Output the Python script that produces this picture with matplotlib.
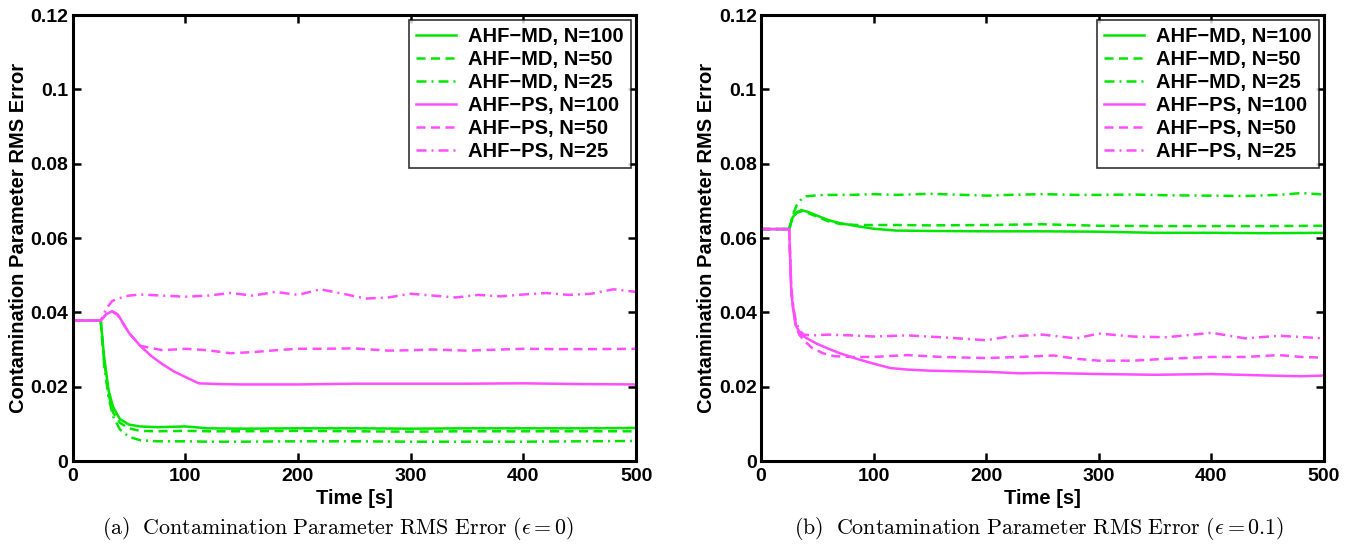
import numpy as np
import matplotlib
matplotlib.use('Agg')
import matplotlib.pyplot as plt

plt.rcParams['font.family'] = ['Liberation Sans', 'DejaVu Sans']
plt.rcParams['mathtext.fontset'] = 'cm'

GREEN = '#00e600'
MAGENTA = '#ff4dff'

LABELS = ['AHF\u2212MD, N=100', 'AHF\u2212MD, N=50', 'AHF\u2212MD, N=25',
          'AHF\u2212PS, N=100', 'AHF\u2212PS, N=50', 'AHF\u2212PS, N=25']

# ---- (a) epsilon = 0 ----
a_md100_t = [0, 25, 28, 32, 36, 42, 50, 60, 75, 100, 120, 150, 200, 250, 300, 350, 400, 450, 500]
a_md100_v = [0.0378, 0.0378, 0.028, 0.019, 0.0145, 0.0113, 0.0098, 0.0093, 0.0091, 0.0093, 0.0088,
             0.0087, 0.0088, 0.0088, 0.0087, 0.0088, 0.0088, 0.0088, 0.0089]
a_md50_t = a_md100_t
a_md50_v = [0.0378, 0.0378, 0.027, 0.018, 0.013, 0.0103, 0.0088, 0.0081, 0.0080, 0.0081, 0.0080,
            0.0080, 0.0081, 0.0080, 0.0079, 0.0080, 0.0080, 0.0080, 0.0080]
a_md25_t = a_md100_t
a_md25_v = [0.0378, 0.0378, 0.026, 0.017, 0.012, 0.0085, 0.0065, 0.0056, 0.0053, 0.0053, 0.0052,
            0.0052, 0.0053, 0.0053, 0.0052, 0.0052, 0.0052, 0.0053, 0.0054]
a_ps100_t = [0, 25, 30, 35, 40, 50, 60, 70, 80, 90, 100, 112, 130, 150, 200, 250, 300, 350, 400, 450, 500]
a_ps100_v = [0.0378, 0.0378, 0.0395, 0.0403, 0.0395, 0.0345, 0.031, 0.0282, 0.026, 0.0241, 0.0226,
             0.0209, 0.0207, 0.0206, 0.0206, 0.0208, 0.0208, 0.0208, 0.0209, 0.0207, 0.0206]
a_ps50_t = [0, 25, 30, 35, 40, 50, 60, 80, 100, 120, 140, 160, 180, 200, 220, 250, 280, 300, 320,
            350, 380, 400, 430, 460, 500]
a_ps50_v = [0.0378, 0.0378, 0.0395, 0.0402, 0.0393, 0.0345, 0.031, 0.0298, 0.0302, 0.0298, 0.0290,
            0.0293, 0.0298, 0.0302, 0.0302, 0.0303, 0.0297, 0.0298, 0.0300, 0.0297, 0.0300, 0.0302,
            0.0301, 0.0301, 0.0302]
a_ps25_t = [0, 25, 30, 35, 40, 50, 60, 80, 100, 120, 140, 160, 180, 200, 220, 240, 260, 280, 300,
            320, 340, 360, 380, 400, 420, 440, 460, 480, 500]
a_ps25_v = [0.0378, 0.0378, 0.041, 0.043, 0.0437, 0.0445, 0.0448, 0.0445, 0.0442, 0.0445, 0.0452,
            0.0445, 0.0455, 0.0447, 0.0462, 0.0450, 0.0437, 0.0440, 0.0450, 0.0445, 0.0440, 0.0447,
            0.0443, 0.0448, 0.0452, 0.0447, 0.0450, 0.0462, 0.0455]

# ---- (b) epsilon = 0.1 ----
b_md100_t = [0, 25, 28, 32, 36, 42, 50, 60, 70, 85, 100, 120, 150, 200, 250, 300, 350, 400, 450, 500]
b_md100_v = [0.0624, 0.0624, 0.0655, 0.0670, 0.0675, 0.0670, 0.0660, 0.0648, 0.0640, 0.0632, 0.0625,
             0.0620, 0.0619, 0.0618, 0.0618, 0.0617, 0.0614, 0.0614, 0.0613, 0.0614]
b_md50_t = b_md100_t
b_md50_v = [0.0624, 0.0624, 0.0655, 0.0668, 0.0672, 0.0667, 0.0657, 0.0645, 0.0638, 0.0635, 0.0635,
            0.0635, 0.0634, 0.0635, 0.0637, 0.0633, 0.0632, 0.0632, 0.0632, 0.0633]
b_md25_t = [0, 25, 28, 32, 36, 40, 50, 60, 80, 100, 120, 150, 180, 200, 220, 250, 280, 300, 330,
            360, 400, 430, 460, 480, 500]
b_md25_v = [0.0624, 0.0624, 0.066, 0.069, 0.0705, 0.0712, 0.0715, 0.0716, 0.0716, 0.0718, 0.0716,
            0.0719, 0.0716, 0.0714, 0.0716, 0.0718, 0.0716, 0.0716, 0.0717, 0.0715, 0.0714, 0.0713,
            0.0716, 0.0721, 0.0717]
b_ps100_t = [0, 25, 27, 29, 31, 34, 38, 42, 50, 60, 70, 85, 100, 115, 130, 150, 200, 230, 250, 300,
             350, 400, 450, 480, 500]
b_ps100_v = [0.0624, 0.0624, 0.045, 0.040, 0.0365, 0.0348, 0.0335, 0.0328, 0.0315, 0.0302, 0.0290,
             0.0275, 0.0262, 0.0250, 0.0246, 0.0243, 0.0240, 0.0236, 0.0237, 0.0234, 0.0232, 0.0234,
             0.0230, 0.0228, 0.0230]
b_ps50_t = [0, 25, 27, 29, 31, 34, 38, 45, 55, 65, 80, 100, 130, 160, 200, 230, 260, 280, 300, 330,
            360, 400, 430, 460, 480, 500]
b_ps50_v = [0.0624, 0.0624, 0.045, 0.040, 0.0362, 0.0340, 0.0325, 0.0305, 0.0290, 0.0282, 0.0280,
            0.0280, 0.0285, 0.0280, 0.0277, 0.0280, 0.0284, 0.0275, 0.0270, 0.0270, 0.0275, 0.0280,
            0.0280, 0.0285, 0.0280, 0.0278]
b_ps25_t = [0, 25, 27, 29, 31, 34, 38, 45, 60, 80, 100, 130, 160, 200, 220, 250, 280, 300, 330, 360,
            400, 430, 460, 500]
b_ps25_v = [0.0624, 0.0624, 0.046, 0.041, 0.0375, 0.0352, 0.0340, 0.0338, 0.0340, 0.0338, 0.0335,
            0.0338, 0.0333, 0.0325, 0.0335, 0.0340, 0.0330, 0.0343, 0.0335, 0.0333, 0.0345, 0.0330,
            0.0337, 0.0330]

x_ticks = [0, 100, 200, 300, 400, 500]
y_ticks = [0, 0.02, 0.04, 0.06, 0.08, 0.1, 0.12]
y_tick_labels = ['0', '0.02', '0.04', '0.06', '0.08', '0.1', '0.12']

SOLID = '-'
DASHED = (0, (3.6, 2.2))
DASHDOT = (0, (4.0, 2.0, 0.8, 2.0))
STYLES = [(GREEN, SOLID), (GREEN, DASHED), (GREEN, DASHDOT),
          (MAGENTA, SOLID), (MAGENTA, DASHED), (MAGENTA, DASHDOT)]

panels = [
    ([(a_md100_t, a_md100_v), (a_md50_t, a_md50_v), (a_md25_t, a_md25_v),
      (a_ps100_t, a_ps100_v), (a_ps50_t, a_ps50_v), (a_ps25_t, a_ps25_v)],
     r'$\mathrm{(a)\ \ Contamination\ Parameter\ RMS\ Error\ (}\epsilon = 0\mathrm{)}$'),
    ([(b_md100_t, b_md100_v), (b_md50_t, b_md50_v), (b_md25_t, b_md25_v),
      (b_ps100_t, b_ps100_v), (b_ps50_t, b_ps50_v), (b_ps25_t, b_ps25_v)],
     r'$\mathrm{(b)\ \ Contamination\ Parameter\ RMS\ Error\ (}\epsilon = 0.1\mathrm{)}$'),
]

fig = plt.figure(figsize=(13.56, 5.5), dpi=100)
axes_rects = [[0.0535, 0.1618, 0.4156, 0.8109], [0.5612, 0.1618, 0.4152, 0.8109]]
caption_x = [338 / 1356, 1039 / 1356]

for i, (series, caption) in enumerate(panels):
    ax = fig.add_axes(axes_rects[i])
    for (t, v), (col, ls), lab in zip(series, STYLES, LABELS):
        ax.plot(t, v, color=col, linestyle=ls, linewidth=1.8, label=lab)
    ax.set_xlim(0, 500)
    ax.set_ylim(0, 0.12)
    ax.set_xticks(x_ticks)
    ax.set_yticks(y_ticks)
    ax.set_yticklabels(y_tick_labels)
    for s in ax.spines.values():
        s.set_linewidth(2.2)
    ax.tick_params(direction='in', length=6, width=1.8, top=True, right=True,
                   labelsize=14, pad=3)
    ax.tick_params(axis='x', pad=5)
    for lbl in ax.get_xticklabels() + ax.get_yticklabels():
        lbl.set_fontweight('bold')
    ax.set_xlabel('Time [s]', fontsize=14.5, fontweight='bold', labelpad=3)
    ax.set_ylabel('Contamination Parameter RMS Error', fontsize=14.5, fontweight='bold', labelpad=2)
    leg = ax.legend(loc='upper right', prop={'weight': 'bold', 'size': 14.5},
                    frameon=True, fancybox=False, borderaxespad=0.25, handlelength=2.0,
                    labelspacing=0.2, borderpad=0.35, handletextpad=0.6)
    leg.get_frame().set_edgecolor('black')
    leg.get_frame().set_linewidth(1.2)
    fig.text(caption_x[i], 22 / 550, caption, ha='center', va='center', fontsize=15.8)

fig.savefig('out.png', dpi=100)
